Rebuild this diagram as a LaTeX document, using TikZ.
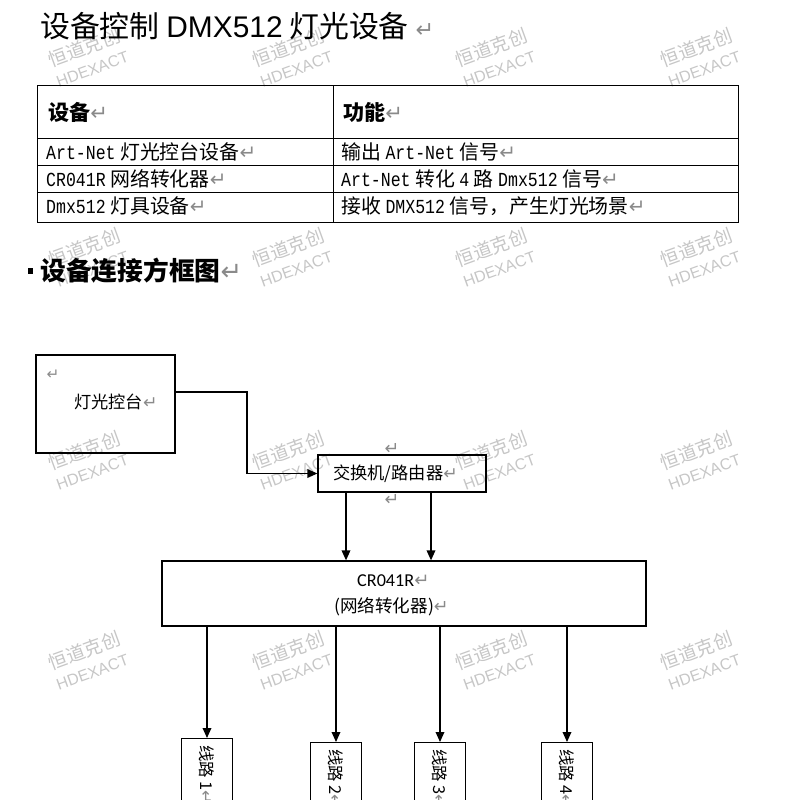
\documentclass[tikz,border=0pt]{standalone}
\usepackage{fontspec}
\usepackage{xcolor}
\usepackage{tikz}
\usetikzlibrary{arrows.meta,positioning}
\setmainfont{Noto Sans CJK SC}
\newfontfamily\retfont{DejaVu Sans}
\newfontfamily\latfont{Liberation Sans}
\newfontfamily\calfont{Carlito}
\newfontfamily\tblfont[FakeStretch=0.83]{Liberation Mono}
\definecolor{retgray}{HTML}{8A8A8A}
\definecolor{wmgray}{HTML}{C6C6C6}
\newcommand{\pxu}{0.03cm}
\newcommand{\ret}{{\retfont\mdseries\color{retgray}↵}}
\newcommand{\lat}[1]{{\tblfont #1}}

\begin{document}
\begin{tikzpicture}[x=\pxu,y=-\pxu,
  box/.style={draw,line width=1.1pt,inner sep=0pt},
  tbl/.style={line width=0.85pt},
  txt/.style={inner sep=0pt,anchor=west},
  arr/.style={line width=1.1pt,-{Triangle[length=3mm,width=2.6mm]}},
  wm/.style={text=wmgray,rotate=20,align=center,inner sep=0pt,
    font=\fontsize{16}{18.5}\selectfont}]
\clip (0,0) rectangle (800,800);
% watermark grid
\foreach \wx in {88,292,495,700}
  \foreach \wy in {57,257,460,660}
    \node[wm] at (\wx,\wy) {恒道克创\\{\latfont\fontsize{13.5}{18.5}\selectfont HDEXACT}};
% title
\node[txt,font=\fontsize{25.5}{27}\selectfont] (title) at (40,26)
  {设备控制 {\latfont DMX512} 灯光设备 {\fontsize{19}{19}\selectfont\ret}};
% table of devices
\draw[tbl] (37,85) rectangle (738,222);
\foreach \ry in {138,165,192} \draw[tbl] (37,\ry) -- (738,\ry);
\draw[tbl] (333,85) -- (333,222);
\node[txt,font=\fontsize{18}{20}\selectfont\bfseries] (hdev) at (48,112) {设备\ret};
\node[txt,font=\fontsize{18}{20}\selectfont\bfseries] (hfun) at (343,112) {功能\ret};
\foreach \ry/\dev/\fun in {%
   152/{\lat{Art-Net} 灯光控台设备}/{输出 \lat{Art-Net} 信号},
   179/{\lat{CR041R} 网络转化器}/{\lat{Art-Net} 转化 \lat{4} 路 \lat{Dmx512} 信号},
   206/{\lat{Dmx512} 灯具设备}/{接收 \lat{DMX512} 信号，产生灯光场景}}{
   \node[txt,font=\fontsize{17}{18}\selectfont] at (46,\ry) {\dev\ret};
   \node[txt,font=\fontsize{17}{18}\selectfont] at (341,\ry) {\fun\ret};
}
% heading
\fill (28,268) rectangle (33,274);
\node[txt,font=\fontsize{22}{24}\selectfont\bfseries] (head) at (40,271) {设备连接方框图\ret};
% block diagram
\node[box,minimum width=139*\pxu,minimum height=98*\pxu] (console) at (105.5,404) {};
\node[inner sep=0pt,font=\fontsize{13}{13}\selectfont] at (53,375) {\ret};
\node[txt,font=\fontsize{14.7}{16}\selectfont] (consoletxt) at (74,402) {灯光控台\ret};
\node[box,minimum width=168*\pxu,minimum height=37*\pxu] (switch) at (402,473.5) {};
\node[txt,font=\fontsize{14.7}{16}\selectfont] (switchtxt) at (333,474) {交换机/路由器\ret};
\node[inner sep=0pt,font=\fontsize{15}{15}\selectfont] at (392,449) {\ret};
\node[inner sep=0pt,font=\fontsize{15}{15}\selectfont] at (392,500) {\ret};
\node[box,minimum width=484*\pxu,minimum height=65*\pxu] (cr) at (404,593.5) {};
\node[txt,font=\fontsize{15.5}{16}\selectfont] (crname) at (357,581) {{\calfont CR041R}\ret};
\node[txt,font=\fontsize{15}{16}\selectfont] (crsub) at (334,607) {(网络转化器)\ret};
% connectors
\coordinate (elbow) at (247,392);
\draw[arr] (console.east |- elbow) -- (elbow) |- (switch.west);
\coordinate (tapA) at (346,0);
\coordinate (tapB) at (431,0);
\draw[arr] (switch.south -| tapA) -- (cr.north -| tapA);
\draw[arr] (switch.south -| tapB) -- (cr.north -| tapB);
% output lines
\foreach \i/\bx/\by in {1/207/738, 2/336/742, 3/440/742, 4/567/742}{
   \node[box,anchor=north,minimum width=51*\pxu,minimum height=120*\pxu] (line\i) at (\bx,\by) {};
   \node[txt,rotate=-90,font=\fontsize{14}{14}\selectfont] at (\bx,\by+7) {线路 \i\ret};
   \draw[arr] (cr.south -| line\i.north) -- (line\i.north);
}
\end{tikzpicture}
\end{document}
